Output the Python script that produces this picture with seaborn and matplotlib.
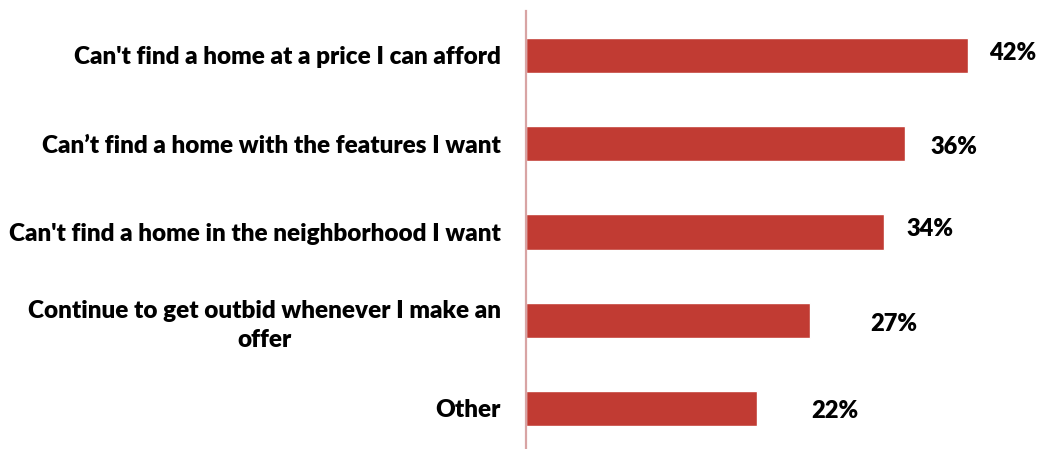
import matplotlib
matplotlib.use("Agg")
import matplotlib.pyplot as plt
import seaborn as sns
import pandas as pd

# Survey: reasons buyers have not yet purchased a home
categories = [
    "Can't find a home at a price I can afford",
    "Can\u2019t find a home with the features I want",
    "Can't find a home in the neighborhood I want",
    "Continue to get outbid whenever I make an\noffer",
    "Other",
]
shares = [42, 36, 34, 27, 22]
value_labels = ["42%", "36%", "34%", "27%", "22%"]

# placement of the percentage labels: horizontal gap past the bar end
# (in axis units) and small vertical nudge (pixels, positive = down)
label_dx = [4.3, 4.7, 4.4, 8.0, 7.4]
label_dy = [-2.5, 3.0, -2.5, 3.5, 3.0]

BAR_COLOR = "#C13B33"
AXIS_COLOR = "#D8A4A4"

sns.set_style("white")
plt.rcParams["font.family"] = ["Lato", "DejaVu Sans"]

W, H = 1039, 449
fig = plt.figure(figsize=(W / 100, H / 100), dpi=100)
x0, top = 526, 11
ax = fig.add_axes([x0 / W, 0, (W - x0) / W, (H - top) / H])

df = pd.DataFrame({"reason": categories, "share": shares})
sns.barplot(data=df, x="share", y="reason", orient="h", color=BAR_COLOR,
            saturation=1, width=0.4, ax=ax)

ax.set_xlim(0, (W - x0) / 10.52)
ax.set_ylim(4.459, -0.504)

for i, (v, txt) in enumerate(zip(shares, value_labels)):
    ax.annotate(txt, xy=(v + label_dx[i], i), xytext=(0, -label_dy[i] * 0.72),
                textcoords="offset points", ha="center", va="center",
                fontsize=17, fontweight="heavy", color="black")

ax.set_xlabel("")
ax.set_ylabel("")
ax.set_xticks([])
ax.tick_params(axis="y", length=0, pad=18)
for lab in ax.get_yticklabels():
    lab.set_fontsize(17.5)
    lab.set_fontweight("heavy")
    lab.set_multialignment("center")
    lab.set_linespacing(1.35)
    lab.set_color("black")

for side in ["top", "right", "bottom"]:
    ax.spines[side].set_visible(False)
ax.spines["left"].set_color(AXIS_COLOR)
ax.spines["left"].set_linewidth(1.6)

fig.savefig("out.png", dpi=100, facecolor="white")
